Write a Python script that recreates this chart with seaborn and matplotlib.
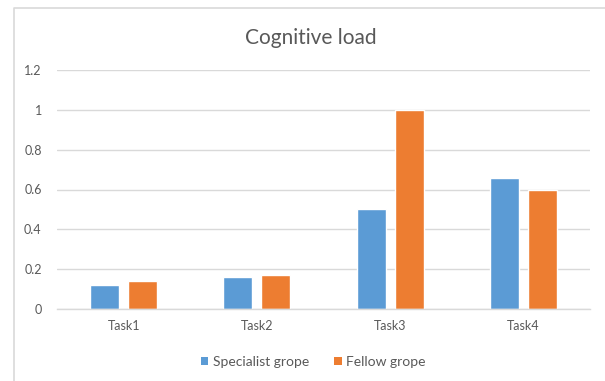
import matplotlib
matplotlib.use("Agg")
import matplotlib.pyplot as plt
from matplotlib.lines import Line2D
from matplotlib.patches import Patch
import seaborn as sns
import pandas as pd

tasks = ["Task1", "Task2", "Task3", "Task4"]
groups = ["Specialist grope", "Fellow grope"]
specialist = [0.12, 0.16, 0.50, 0.66]
fellow = [0.14, 0.17, 1.00, 0.60]
y_ticks = [0, 0.2, 0.4, 0.6, 0.8, 1.0, 1.2]
y_tick_labels = ["0", "0.2", "0.4", "0.6", "0.8", "1", "1.2"]
title = "Cognitive load"

colors = ["#5B9BD5", "#ED7D31"]
text_color = "#595959"
grid_color = "#D9D9D9"

df = pd.DataFrame({
    "task": tasks * 2,
    "group": [groups[0]] * len(tasks) + [groups[1]] * len(tasks),
    "value": specialist + fellow,
})

sns.set_style("white")
plt.rcParams["font.family"] = ["Lato", "DejaVu Sans"]

W, H = 605, 381
fig = plt.figure(figsize=(W / 100, H / 100), dpi=100)
ax = fig.add_axes([57 / W, (H - 309) / H, 533 / W, 239 / H])

sns.barplot(data=df, x="task", y="value", hue="group", order=tasks,
            hue_order=groups, palette=colors, width=0.57, gap=0.235,
            saturation=1, legend=False, ax=ax)

ax.set_ylim(0, 1.2)
ax.set_xlim(-0.5, len(tasks) - 0.5)
ax.set_yticks(y_ticks)
ax.set_yticklabels(y_tick_labels)
ax.set_xlabel("")
ax.set_ylabel("")
ax.yaxis.grid(True, color=grid_color, linewidth=1)
ax.set_axisbelow(True)
for side in ["left", "right", "top"]:
    ax.spines[side].set_visible(False)
ax.spines["bottom"].set_color(grid_color)
ax.spines["bottom"].set_linewidth(1)
ax.tick_params(axis="both", length=0, colors=text_color, labelsize=9)
ax.tick_params(axis="y", pad=11)
ax.tick_params(axis="x", pad=8)

fig.text(311 / W, 1 - 38 / H, title, ha="center", va="center",
         fontsize=15, color=text_color)

handles = [Patch(facecolor=c, edgecolor="none") for c in colors]
fig.legend(handles, groups, loc="center", bbox_to_anchor=(313 / W, 1 - 362 / H),
           ncol=2, frameon=False, fontsize=10, labelcolor=text_color,
           handlelength=0.55, handleheight=0.55, handletextpad=0.3,
           columnspacing=1.8)

# chart frame: left and top edges
fig.add_artist(Line2D([14 / W, 14 / W, 1.0], [0.0, 1 - 7.5 / H, 1 - 7.5 / H],
                      transform=fig.transFigure, color=grid_color, linewidth=1.2))

fig.savefig("out.png", dpi=100)
